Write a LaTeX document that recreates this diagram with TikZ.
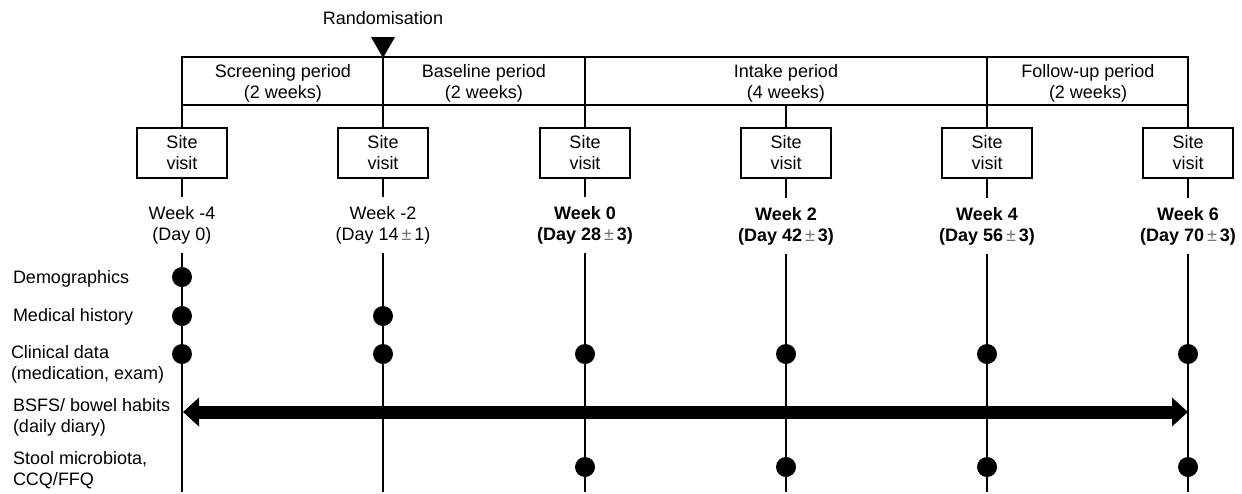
\documentclass[tikz,border=0pt]{standalone}
\usepackage{fontspec}
\setmainfont{Liberation Sans}
\usetikzlibrary{arrows.meta}

\newcommand{\pmgap}{\,{\color{black!55}\mdseries ±}\,}

\begin{document}
\begin{tikzpicture}[x=0.5pt,y=-0.5pt,
    every node/.style={font=\fontsize{9}{10.5}\selectfont, inner sep=0pt, align=center},
    visitbox/.style={draw, line width=1.2pt, minimum width=45pt, minimum height=25pt},
    weeklabel/.style={inner ysep=4pt},
    rowlabel/.style={anchor=west, align=left},
    dot/.style={circle, fill, minimum size=10pt},
    line width=1pt]
				% Frame
				\useasboundingbox (0,0) rectangle (1242,493);
				% Period box
				\draw[line width=1.2pt] (182,57) rectangle (1188,105);
				\foreach \x in {383,585,987}
					\draw[line width=1.2pt] (\x,57) -- (\x,105);
				\fill (371,37) -- (395,37) -- (383,58) -- cycle;
				\node (rand) at (383,18) {Randomisation};
				\node (p1) at (283,83) {Screening period\\(2 weeks)};
				\node (p2) at (484,83) {Baseline period\\(2 weeks)};
				\node (p3) at (786,83) {Intake period\\(4 weeks)};
				\node (p4) at (1088,83) {Follow-up period\\(2 weeks)};
				% Week labels
				\node[weeklabel] (wk1) at (182,225) {Week -4\\(Day 0)};
				\node[weeklabel] (wk2) at (383,225) {Week -2\\(Day 14\pmgap1)};
				\node[weeklabel, font=\fontsize{9}{10.5}\selectfont\bfseries] (wk3) at (585,225) {Week 0\\(Day 28\pmgap3)};
				\node[weeklabel, font=\fontsize{9}{10.5}\selectfont\bfseries] (wk4) at (786,226) {Week 2\\(Day 42\pmgap3)};
				\node[weeklabel, font=\fontsize{9}{10.5}\selectfont\bfseries] (wk5) at (987,226) {Week 4\\(Day 56\pmgap3)};
				\node[weeklabel, font=\fontsize{9}{10.5}\selectfont\bfseries] (wk6) at (1188,226) {Week 6\\(Day 70\pmgap3)};
				% Site visits and time lines
				\foreach \x/\n in {182/1,383/2,585/3,786/4,987/5,1188/6} {
					\node[visitbox] (sv\n) at (\x,153) {Site\\visit};
					\coordinate (top\n) at (\x,105);
					\coordinate (bot\n) at (\x,492);
					\draw (top\n) -- (sv\n);
					\draw (sv\n) -- (wk\n);
					\draw (wk\n) -- (bot\n);
				}
				% Row labels
				\node[rowlabel] (demo) at (12,279) {Demographics};
				\node[rowlabel] (hist) at (12,317) {Medical history};
				\node[rowlabel] (clin) at (10,364) {Clinical data\\(medication, exam)};
				\node[rowlabel] (bsfs) at (12,417) {BSFS/ bowel habits\\(daily diary)};
				\node[rowlabel] (stool) at (12,470) {Stool microbiota,\\CCQ/FFQ};
				% Assessments
				\node[dot] (d11) at (182,277) {};
				\node[dot] (d21) at (182,316) {};
				\node[dot] (d22) at (383,316) {};
				\foreach \x/\n in {182/1,383/2,585/3,786/4,987/5,1188/6}
					\node[dot] (d3\n) at (\x,354) {};
				\foreach \x/\n in {585/3,786/4,987/5,1188/6}
					\node[dot] (d5\n) at (\x,467) {};
				\coordinate (arrL) at (183,412);
				\coordinate (arrR) at (1188,412);
				\draw[line width=6.5pt, {Triangle[length=8pt,width=14pt]}-{Triangle[length=8pt,width=14pt]}] (arrL) -- (arrR);
			\end{tikzpicture}
\end{document}
